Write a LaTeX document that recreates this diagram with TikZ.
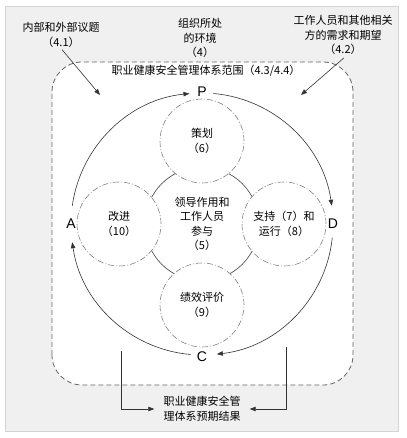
\documentclass[tikz,border=0pt]{standalone}
\usepackage{fontspec}
\setmainfont{Liberation Sans}
\newfontfamily\cjk{Noto Sans CJK SC}
\usetikzlibrary{arrows.meta}
\definecolor{bggray}{HTML}{F0F0F0}
\definecolor{bgline}{HTML}{D4D4D4}
\begin{document}
\begin{tikzpicture}[x=1pt,y=1pt,
  txt/.style={font=\cjk\fontsize{11}{14.5}\selectfont, align=center, inner sep=0pt, text=black},
  lbl/.style={font=\fontsize{14}{16}\selectfont, inner sep=1pt},
  arr/.style={-{Triangle[length=6pt,width=4.5pt]}, line width=0.6pt, draw=black!80},
  dcirc/.style={circle, minimum size=84pt, inner sep=0pt, fill=white, draw=black!50, line width=0.6pt, dash pattern=on 6pt off 2pt on 1pt off 2pt},
  core/.style={circle, minimum size=114pt, inner sep=0pt, draw=black!75, line width=0.6pt},
  scope/.style={draw=black!60, fill=white, line width=0.8pt, dash pattern=on 5pt off 3pt, rounded corners=30pt},
]
\useasboundingbox (0,0) rectangle (406,438);
\fill[white] (0,0) rectangle (406,438);
\draw[bgline, fill=bggray, line width=0.8pt] (5,7) rectangle (398,432);
% scope frame
\draw[scope] (52,53) rectangle (353,376);
\node[txt] (title) at (206,367) {职业健康安全管理体系范围（4.3/4.4）};
% centre
\coordinate (c) at (202,214);
\node[core, txt] (lead) at (202,214) {领导作用和\\工作人员\\参与\\（5）};
\node[dcirc, txt] (plan) at (202,297) {策划\\（6）};
\node[dcirc, txt] (impr) at (119,214) {改进\\（10）};
\node[dcirc, txt] (supp) at (284,214) {支持（7）和\\运行（8）};
\node[dcirc, txt] (eval) at (202,133) {绩效评价\\（9）};
% PDCA labels
\node[lbl] (P) at (202,346) {P};
\node[lbl] (A) at (71,214) {A};
\node[lbl] (D) at (333,214) {D};
\node[lbl] (C) at (202,81) {C};
% big cycle arcs
\draw[arr] ([shift={(172:131)}]c) arc[start angle=172, end angle=95.5, radius=131];
\draw[arr] ([shift={(85:131)}]c) arc[start angle=85, end angle=8, radius=131];
\draw[arr] ([shift={(-6:131)}]c) arc[start angle=-6, end angle=-83.5, radius=131];
\draw[arr] ([shift={(-95:131)}]c) arc[start angle=-95, end angle=-172, radius=131];
% context texts
\node[txt] (issues) at (61,403) {内部和外部议题\\（4.1）};
\node[txt] (ctx) at (200,400) {组织所处\\的环境\\（4）};
\node[txt] (needs) at (343,403) {工作人员和其他相关\\方的需求和期望\\（4.2）};
\coordinate (issuesEnd) at (100,343);
\coordinate (needsEnd) at (301,343);
\draw[arr] (issues.south) ++(1,-2) -- (issuesEnd);
\draw[arr] (needs.south) ++(1,-3) -- (needsEnd);
% outcomes
\node[txt, inner xsep=9pt] (out) at (202,29) {职业健康安全管\\理体系预期结果};
\coordinate (l1) at (121,87);
\coordinate (r1) at (286,91);
\draw[arr] (l1) |- (out.west);
\draw[arr] (r1) |- (out.east);
\end{tikzpicture}
\end{document}
